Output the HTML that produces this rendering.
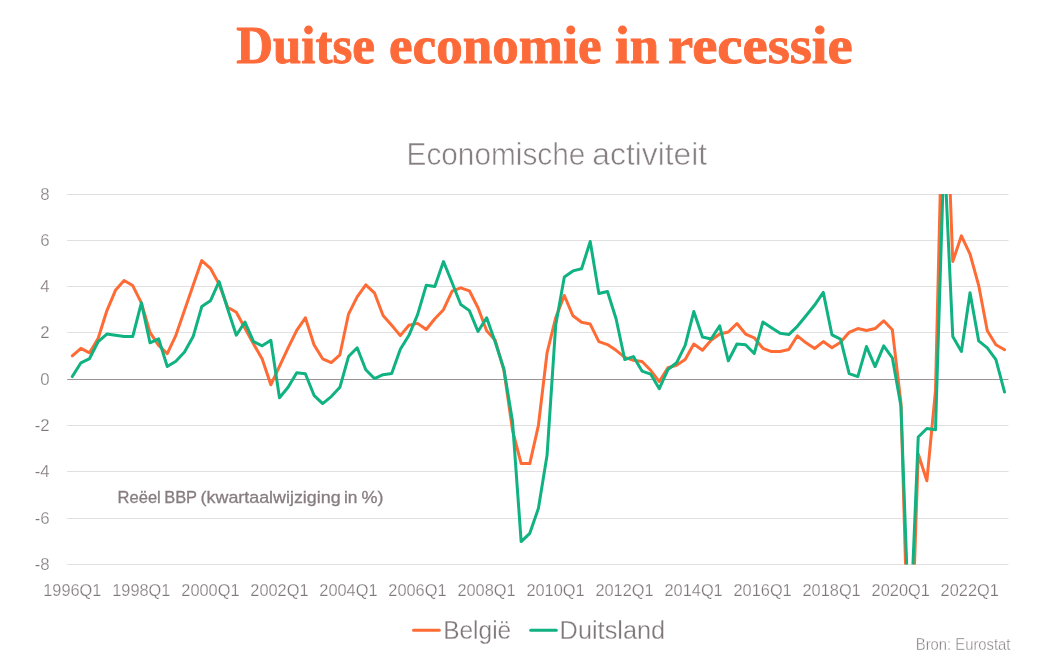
<!DOCTYPE html>
<html lang="nl">
<head>
<meta charset="utf-8">
<title>Duitse economie in recessie</title>
<style>
html,body{margin:0;padding:0;background:#fff;}
body{width:1057px;height:668px;overflow:hidden;position:relative;font-family:"Liberation Sans",sans-serif;}
svg{position:absolute;left:0;top:0;display:block;}
.ax{font-family:"Liberation Sans",sans-serif;font-size:16.8px;fill:#7f777a;stroke:#fff;stroke-width:0.25px;}
.title{font-family:"Liberation Serif",serif;font-weight:700;font-size:52px;fill:#fd6a39;stroke:#fd6a39;stroke-width:0.9px;}
.sub{font-family:"Liberation Sans",sans-serif;font-size:31px;fill:#877f82;stroke:#fff;stroke-width:0.55px;}
.note{font-family:"Liberation Sans",sans-serif;font-size:16.4px;fill:#877d80;stroke:#877d80;stroke-width:0.3px;}
.leg{font-family:"Liberation Sans",sans-serif;font-size:26px;fill:#7f777a;stroke:#fff;stroke-width:0.3px;}
.src{font-family:"Liberation Sans",sans-serif;font-size:15.6px;fill:#857d80;stroke:#fff;stroke-width:0.35px;}
</style>
</head>
<body>
<svg width="1057" height="668" viewBox="0 0 1057 668">
<defs><clipPath id="plot"><rect x="66" y="194" width="944" height="370.6"/></clipPath></defs>
<rect width="1057" height="668" fill="#ffffff"/>
<text y="63.4" class="title"><tspan x="236.2" textLength="138.8" lengthAdjust="spacingAndGlyphs">Duitse</tspan> <tspan x="389" textLength="212.5" lengthAdjust="spacingAndGlyphs">economie</tspan> <tspan x="615" textLength="44" lengthAdjust="spacingAndGlyphs">in</tspan> <tspan x="668" textLength="184.8" lengthAdjust="spacingAndGlyphs">recessie</tspan></text>
<text y="164.9" class="sub"><tspan x="406.5" textLength="178.9" lengthAdjust="spacingAndGlyphs">Economische</tspan> <tspan x="592.3" textLength="114.9" lengthAdjust="spacingAndGlyphs">activiteit</tspan></text>
<g>
<line x1="67.2" x2="1008.5" y1="194.5" y2="194.5" stroke="#e1dfdf" stroke-width="1"/>
<line x1="67.2" x2="1008.5" y1="240.5" y2="240.5" stroke="#e1dfdf" stroke-width="1"/>
<line x1="67.2" x2="1008.5" y1="286.5" y2="286.5" stroke="#e1dfdf" stroke-width="1"/>
<line x1="67.2" x2="1008.5" y1="332.5" y2="332.5" stroke="#e1dfdf" stroke-width="1"/>
<line x1="67.2" x2="1008.5" y1="425.5" y2="425.5" stroke="#e1dfdf" stroke-width="1"/>
<line x1="67.2" x2="1008.5" y1="471.5" y2="471.5" stroke="#e1dfdf" stroke-width="1"/>
<line x1="67.2" x2="1008.5" y1="518.5" y2="518.5" stroke="#e1dfdf" stroke-width="1"/>
<line x1="67.2" x2="1008.5" y1="564.5" y2="564.5" stroke="#e1dfdf" stroke-width="1"/>
<line x1="67.2" x2="1008.5" y1="379.5" y2="379.5" stroke="#9a9395" stroke-width="1"/>
</g>
<g>
<text x="49.6" y="200.1" text-anchor="end" class="ax">8</text>
<text x="49.6" y="246.1" text-anchor="end" class="ax">6</text>
<text x="49.6" y="292.1" text-anchor="end" class="ax">4</text>
<text x="49.6" y="338.1" text-anchor="end" class="ax">2</text>
<text x="49.6" y="385.1" text-anchor="end" class="ax">0</text>
<text x="49.6" y="431.1" text-anchor="end" class="ax">-2</text>
<text x="49.6" y="477.1" text-anchor="end" class="ax">-4</text>
<text x="49.6" y="524.1" text-anchor="end" class="ax">-6</text>
<text x="49.6" y="570.1" text-anchor="end" class="ax">-8</text>
</g>
<g>
<text x="72.3" y="596" text-anchor="middle" class="ax" textLength="58.2" lengthAdjust="spacingAndGlyphs">1996Q1</text>
<text x="141.3" y="596" text-anchor="middle" class="ax" textLength="58.2" lengthAdjust="spacingAndGlyphs">1998Q1</text>
<text x="210.4" y="596" text-anchor="middle" class="ax" textLength="58.2" lengthAdjust="spacingAndGlyphs">2000Q1</text>
<text x="279.4" y="596" text-anchor="middle" class="ax" textLength="58.2" lengthAdjust="spacingAndGlyphs">2002Q1</text>
<text x="348.4" y="596" text-anchor="middle" class="ax" textLength="58.2" lengthAdjust="spacingAndGlyphs">2004Q1</text>
<text x="417.4" y="596" text-anchor="middle" class="ax" textLength="58.2" lengthAdjust="spacingAndGlyphs">2006Q1</text>
<text x="486.5" y="596" text-anchor="middle" class="ax" textLength="58.2" lengthAdjust="spacingAndGlyphs">2008Q1</text>
<text x="555.5" y="596" text-anchor="middle" class="ax" textLength="58.2" lengthAdjust="spacingAndGlyphs">2010Q1</text>
<text x="624.5" y="596" text-anchor="middle" class="ax" textLength="58.2" lengthAdjust="spacingAndGlyphs">2012Q1</text>
<text x="693.6" y="596" text-anchor="middle" class="ax" textLength="58.2" lengthAdjust="spacingAndGlyphs">2014Q1</text>
<text x="762.6" y="596" text-anchor="middle" class="ax" textLength="58.2" lengthAdjust="spacingAndGlyphs">2016Q1</text>
<text x="831.6" y="596" text-anchor="middle" class="ax" textLength="58.2" lengthAdjust="spacingAndGlyphs">2018Q1</text>
<text x="900.7" y="596" text-anchor="middle" class="ax" textLength="58.2" lengthAdjust="spacingAndGlyphs">2020Q1</text>
<text x="969.7" y="596" text-anchor="middle" class="ax" textLength="58.2" lengthAdjust="spacingAndGlyphs">2022Q1</text>
</g>
<text y="502.8" class="note"><tspan x="117.6" textLength="43.2" lengthAdjust="spacingAndGlyphs">Reëel</tspan> <tspan x="164.2" textLength="32.6" lengthAdjust="spacingAndGlyphs">BBP</tspan> <tspan x="200.6" textLength="140" lengthAdjust="spacingAndGlyphs">(kwartaalwijziging</tspan> <tspan x="343.9" textLength="13.5" lengthAdjust="spacingAndGlyphs">in</tspan> <tspan x="361.5" textLength="22" lengthAdjust="spacingAndGlyphs">%)</tspan></text>
<g clip-path="url(#plot)" fill="none" stroke-width="3" stroke-linejoin="round" stroke-linecap="round">
<polyline stroke="#ff6b35" points="72.30,355.80 80.93,348.30 89.56,352.80 98.20,338.30 106.83,310.80 115.46,290.30 124.09,280.55 132.72,285.55 141.36,302.80 149.99,332.30 158.62,345.30 167.25,353.55 175.88,335.30 184.52,310.30 193.15,285.30 201.78,260.55 210.41,268.30 219.04,284.05 227.68,307.30 236.31,312.30 244.94,328.30 253.57,344.05 262.20,359.05 270.84,384.80 279.47,366.30 288.10,347.80 296.73,330.30 305.36,317.80 314.00,344.80 322.63,358.80 331.26,362.60 339.89,354.80 348.52,314.05 357.16,296.80 365.79,284.80 374.42,292.80 383.05,315.50 391.68,325.30 400.32,335.60 408.95,325.30 417.58,323.40 426.21,329.55 434.84,318.70 443.48,309.70 452.11,291.05 460.74,287.80 469.37,290.80 478.00,307.80 486.64,330.80 495.27,340.30 503.90,370.30 512.53,430.30 521.16,463.55 529.80,463.55 538.43,425.30 547.06,352.80 555.69,317.80 564.32,295.50 572.96,315.80 581.59,322.30 590.22,324.05 598.85,341.55 607.48,344.55 616.12,350.30 624.75,357.30 633.38,360.30 642.01,361.55 650.64,370.30 659.28,381.55 667.91,367.80 676.54,365.30 685.17,359.55 693.80,344.05 702.44,350.30 711.07,340.30 719.70,334.05 728.33,332.05 736.96,323.55 745.60,334.05 754.23,337.80 762.86,348.30 771.49,351.55 780.12,351.55 788.76,349.55 797.39,335.80 806.02,342.80 814.65,348.50 823.28,341.55 831.92,347.80 840.55,342.30 849.18,332.30 857.81,328.55 866.44,330.55 875.08,328.55 883.71,320.80 892.34,329.80 900.97,403.30 909.60,709.30 918.24,454.05 926.87,480.80 935.50,390.30 944.13,30.30 952.76,261.55 961.40,235.80 970.03,254.05 978.66,285.30 987.29,330.80 995.92,344.80 1004.56,349.80"/>
<polyline stroke="#10b282" points="72.30,376.55 80.93,362.80 89.56,358.55 98.20,341.55 106.83,334.05 115.46,335.30 124.09,336.55 132.72,336.55 141.36,302.80 149.99,342.80 158.62,338.80 167.25,366.55 175.88,361.30 184.52,352.05 193.15,336.55 201.78,306.55 210.41,300.80 219.04,281.55 227.68,309.05 236.31,335.30 244.94,322.05 253.57,341.55 262.20,345.80 270.84,340.30 279.47,397.80 288.10,387.30 296.73,372.80 305.36,373.80 314.00,395.30 322.63,403.55 331.26,396.55 339.89,387.30 348.52,356.55 357.16,347.80 365.79,369.70 374.42,378.55 383.05,374.70 391.68,373.55 400.32,349.30 408.95,335.30 417.58,314.70 426.21,285.30 434.84,286.55 443.48,261.55 452.11,282.80 460.74,304.50 469.37,310.60 478.00,331.55 486.64,317.80 495.27,342.30 503.90,369.05 512.53,421.55 521.16,541.55 529.80,533.30 538.43,508.30 547.06,455.30 555.69,325.30 564.32,276.90 572.96,270.90 581.59,268.80 590.22,241.55 598.85,293.55 607.48,291.55 616.12,319.05 624.75,359.55 633.38,356.55 642.01,371.05 650.64,374.05 659.28,388.70 667.91,369.55 676.54,362.80 685.17,345.30 693.80,311.55 702.44,337.05 711.07,339.05 719.70,325.80 728.33,360.80 736.96,344.05 745.60,344.80 754.23,353.55 762.86,322.05 771.49,327.80 780.12,333.30 788.76,334.55 797.39,326.30 806.02,315.70 814.65,305.05 823.28,292.40 831.92,334.80 840.55,339.05 849.18,373.55 857.81,376.55 866.44,346.55 875.08,366.55 883.71,345.80 892.34,357.80 900.97,406.30 909.60,645.30 918.24,437.05 926.87,428.55 935.50,429.80 944.13,149.30 952.76,336.55 961.40,351.55 970.03,292.80 978.66,340.80 987.29,347.80 995.92,359.55 1004.56,392.05"/>
</g>
<g fill="none" stroke-width="3" stroke-linecap="round">
<line x1="413.5" x2="439.3" y1="630.3" y2="630.3" stroke="#ff6b35"/>
<line x1="530.7" x2="556.3" y1="630.3" y2="630.3" stroke="#10b282"/>
</g>
<text x="443.2" y="638.8" class="leg" textLength="68" lengthAdjust="spacingAndGlyphs">België</text>
<text x="559.6" y="638.8" class="leg" textLength="105.6" lengthAdjust="spacingAndGlyphs">Duitsland</text>
<text x="915.8" y="649.6" class="src" textLength="94.6" lengthAdjust="spacingAndGlyphs">Bron: Eurostat</text>
</svg>
</body>
</html>
